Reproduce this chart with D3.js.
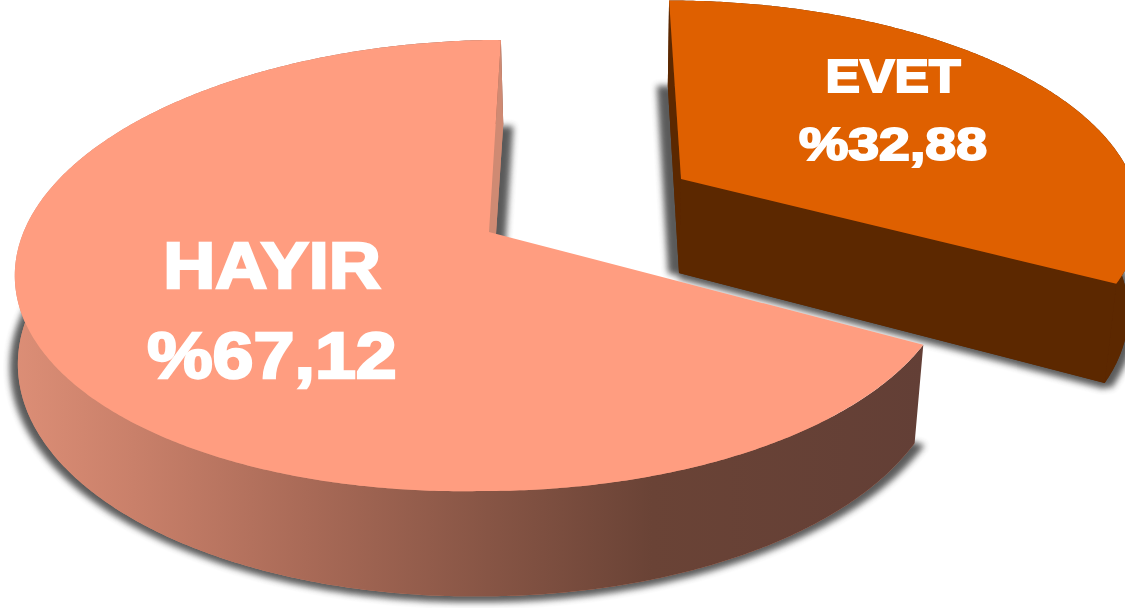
<!DOCTYPE html>
<html><head><meta charset="utf-8">
<script src="https://cdn.jsdelivr.net/npm/d3@7"></script>
<style>html,body{margin:0;padding:0;background:#fff;overflow:hidden}svg{display:block}</style>
</head><body>
<svg id="c" width="1125" height="608"></svg>
<script>
const categories = ["EVET", "HAYIR"];
const values = [32.88, 67.12];
const valueLabels = ["%32,88", "%67,12"];

const K = 0.1486, RAD = Math.PI / 180;
// projected discs: top and bottom faces of each slice
const geom = {
  EVET: {
    top: {ax:681, ay:179, cx:683, B:449, C:-16, A:205, D:0},
    low: {ax:679, ay:273, cx:680, B:441, C:-14, A:215, D:0},
    nudgeTop:0, nudgeLow:0, topFill:"#df6000", shadowFill:"#4d4d4d", wall:"#5c2800",
    shadows:[[-11,0],[7,5],[0,6]],
    label:{x:893, y1:92, y2:160, size:47, stroke:2, w1:137, w2:190}
  },
  HAYIR: {
    top: {ax:489, ay:232, cx:484, B:464, C:0, A:220.5, D:10},
    low: {ax:490, ay:325, cx:481, B:458, C:0, A:231, D:4},
    nudgeTop:2.4*RAD, nudgeLow:3.2*RAD, topFill:"#ff9d80", shadowFill:"#4d4d4d", wall:"#cf8a73",
    shadows:[[-8,3],[10,2],[0,6]],
    label:{x:272, y1:288, y2:378, size:64, stroke:2.4, w1:220, w2:252}
  }
};

const pie = d3.pie().sort(null).startAngle(0).endAngle(2*Math.PI);
const arcs = pie(values);

function rim(d, a){
  const u = Math.sin(a), v = Math.cos(a), w = 1/(1 + K*v);
  return [d.cx + (d.B*u + d.C*v)*w, d.ay - d.A*v*w + d.D*Math.max(0,-u)*w];
}
function rimPts(d, a0, a1){
  const n = Math.max(2, Math.ceil(Math.abs(a1-a0)/(0.5*RAD)));
  return d3.range(n+1).map(i => rim(d, a0 + (a1-a0)*i/n));
}
const line = d3.line();

const svg = d3.select("#c");
const defs = svg.append("defs");
const f = defs.append("filter").attr("id","blur").attr("x","-10%").attr("y","-10%").attr("width","120%").attr("height","120%");
f.append("feGaussianBlur").attr("stdDeviation",3.2);
const g = defs.append("linearGradient").attr("id","band").attr("gradientUnits","userSpaceOnUse")
  .attr("x1",15).attr("x2",925).attr("y1",0).attr("y2",0);
[[0,"#dc8e76"],[0.13,"#c9806a"],[0.32,"#a96a57"],[0.52,"#875545"],[0.70,"#6a4336"],[1,"#633f36"]]
  .forEach(s => g.append("stop").attr("offset",s[0]).attr("stop-color",s[1]));

function drawSlice(name, arc){
  const G = geom[name], t = G.top, l = G.low;
  const a0 = arc.startAngle, a1 = arc.endAngle;
  const layer = svg.append("g").attr("class","slice-"+name);
  const topRim = rimPts(t, a0, a1 + G.nudgeTop);
  const lowRim = rimPts(l, a0, a1 + G.nudgeLow);
  const lowFace = [[l.ax,l.ay], ...lowRim];

  // soft shadow behind the body
  const sh = layer.append("g").attr("filter","url(#blur)").attr("opacity",0.92);
  G.shadows.forEach(o => sh.append("path").attr("d", line(lowFace)+"Z")
     .attr("transform",`translate(${o[0]},${o[1]})`).attr("fill",G.shadowFill));

  const bandFill = name==="HAYIR" ? "url(#band)" : G.wall;
  layer.append("path").attr("d", line(lowFace)+"Z").attr("fill",G.wall);
  layer.append("path").attr("d", line([...topRim, ...lowRim.slice().reverse()])+"Z").attr("fill",bandFill);
  const e1 = topRim[topRim.length-1], b1 = lowRim[lowRim.length-1];
  if(name==="HAYIR"){
    layer.append("path").attr("d", line([e1, b1, [l.ax,l.ay], [t.ax,t.ay]])+"Z").attr("fill",G.wall);
  } else {
    layer.append("path").attr("d", line([[t.ax,t.ay], e1, b1, [l.ax,l.ay]])+"Z").attr("fill",G.wall);
    layer.append("path").attr("d", line([topRim[0], lowRim[0], [l.ax,l.ay], [t.ax,t.ay]])+"Z").attr("fill",G.wall);
  }
  layer.append("path").attr("d", line([[t.ax,t.ay], ...topRim])+"Z").attr("fill",G.topFill);
}

// EVET is painted first; HAYIR sits over its shadow
drawSlice(categories[0], arcs[0]);
drawSlice(categories[1], arcs[1]);

categories.forEach((name,i) => {
  const L = geom[name].label;
  [[name,L.y1,L.w1],[valueLabels[i],L.y2,L.w2]].forEach(([txt,y,w]) => {
    svg.append("text").text(txt).attr("x",L.x).attr("y",y)
      .attr("text-anchor","middle")
      .attr("textLength",w - L.stroke).attr("lengthAdjust","spacingAndGlyphs")
      .attr("font-family","'Liberation Sans',Arial,sans-serif").attr("font-weight",700)
      .attr("font-size",L.size).attr("fill","#fff")
      .attr("stroke","#fff").attr("stroke-width",L.stroke).attr("paint-order","stroke");
  });
});
</script>
</body></html>
